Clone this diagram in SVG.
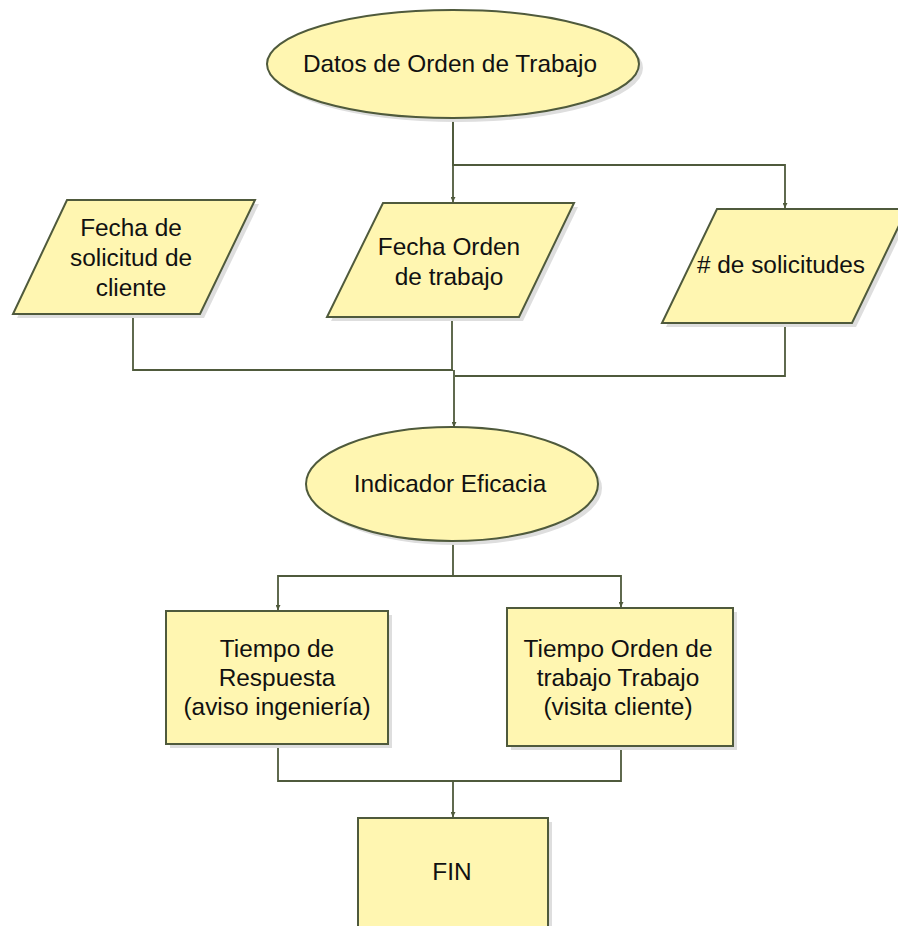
<svg xmlns="http://www.w3.org/2000/svg" width="898" height="926" viewBox="0 0 898 926">
  <style>
    .shape { fill: #fff6b1; stroke: #4f5a3c; stroke-width: 2; }
    .shadow { fill: #dedede; stroke: none; }
    .label { font-family: "Liberation Sans", Arial, sans-serif; font-size: 24.4px; fill: #111; text-anchor: middle; }
    .wire { fill: none; stroke: #4f5a3c; stroke-width: 1.8; }
  </style>
  <defs>
    <marker id="arrow" viewBox="0 0 10 10" refX="10" refY="5" markerWidth="5" markerHeight="5" orient="auto" markerUnits="userSpaceOnUse">
      <path d="M0,0 L10,5 L0,10 z" fill="#4f5a3c"/>
    </marker>
  </defs>
  <rect width="898" height="926" fill="#ffffff"/>

  <!-- connectors -->
  <g id="connectors">
    <path class="wire" d="M453,119 V165 H785 V208" marker-end="url(#arrow)"/>
    <path class="wire" d="M453,119 V202" marker-end="url(#arrow)"/>
    <path class="wire" d="M133,314 V370 H453"/>
    <path class="wire" d="M452,317 V370"/>
    <path class="wire" d="M785,323 V376 H455"/>
    <path class="wire" d="M454,370 V427" marker-end="url(#arrow)"/>
    <path class="wire" d="M453,541 V576 H278 V610" marker-end="url(#arrow)"/>
    <path class="wire" d="M453,576 H621 V607" marker-end="url(#arrow)"/>
    <path class="wire" d="M278,744 V781 H621 V746"/>
    <path class="wire" d="M453,781 V817" marker-end="url(#arrow)"/>
  </g>

  <!-- start: work order data -->
  <g id="datos-orden">
    <ellipse class="shadow" cx="457" cy="68" rx="186" ry="54"/>
    <ellipse class="shape" cx="453" cy="64" rx="186" ry="54"/>
    <text class="label" x="450" y="72">Datos de Orden de Trabajo</text>
  </g>

  <g id="fecha-solicitud">
    <polygon class="shadow" points="71,204 259,204 204,318 17,318"/>
    <polygon class="shape" points="67,200 255,200 200,314 13,314"/>
    <text class="label" x="131" y="236">Fecha de</text>
    <text class="label" x="131" y="266">solicitud de</text>
    <text class="label" x="131" y="296">cliente</text>
  </g>

  <g id="fecha-orden">
    <polygon class="shadow" points="387,207 578,207 523,321 331,321"/>
    <polygon class="shape" points="383,203 574,203 519,317 327,317"/>
    <text class="label" x="449" y="255">Fecha Orden</text>
    <text class="label" x="449" y="285">de trabajo</text>
  </g>

  <g id="num-solicitudes">
    <polygon class="shadow" points="721,213 911,213 856,327 666,327"/>
    <polygon class="shape" points="717,209 907,209 852,323 662,323"/>
    <text class="label" x="781" y="273"># de solicitudes</text>
  </g>

  <g id="indicador-eficacia">
    <ellipse class="shadow" cx="456" cy="488" rx="146" ry="57"/>
    <ellipse class="shape" cx="452" cy="484" rx="146" ry="57"/>
    <text class="label" x="450" y="492">Indicador Eficacia</text>
  </g>

  <g id="tiempo-respuesta">
    <rect class="shadow" x="170" y="615" width="222" height="133"/>
    <rect class="shape" x="166" y="611" width="222" height="133"/>
    <text class="label" x="277" y="657">Tiempo de</text>
    <text class="label" x="277" y="686">Respuesta</text>
    <text class="label" x="277" y="715">(aviso ingeniería)</text>
  </g>

  <g id="tiempo-orden">
    <rect class="shadow" x="511" y="612" width="226" height="138"/>
    <rect class="shape" x="507" y="608" width="226" height="138"/>
    <text class="label" x="618" y="657">Tiempo Orden de</text>
    <text class="label" x="618" y="686">trabajo Trabajo</text>
    <text class="label" x="618" y="715">(visita cliente)</text>
  </g>

  <g id="fin">
    <rect class="shadow" x="362" y="822" width="190" height="120"/>
    <rect class="shape" x="358" y="818" width="190" height="120"/>
    <text class="label" x="452" y="880">FIN</text>
  </g>
</svg>
